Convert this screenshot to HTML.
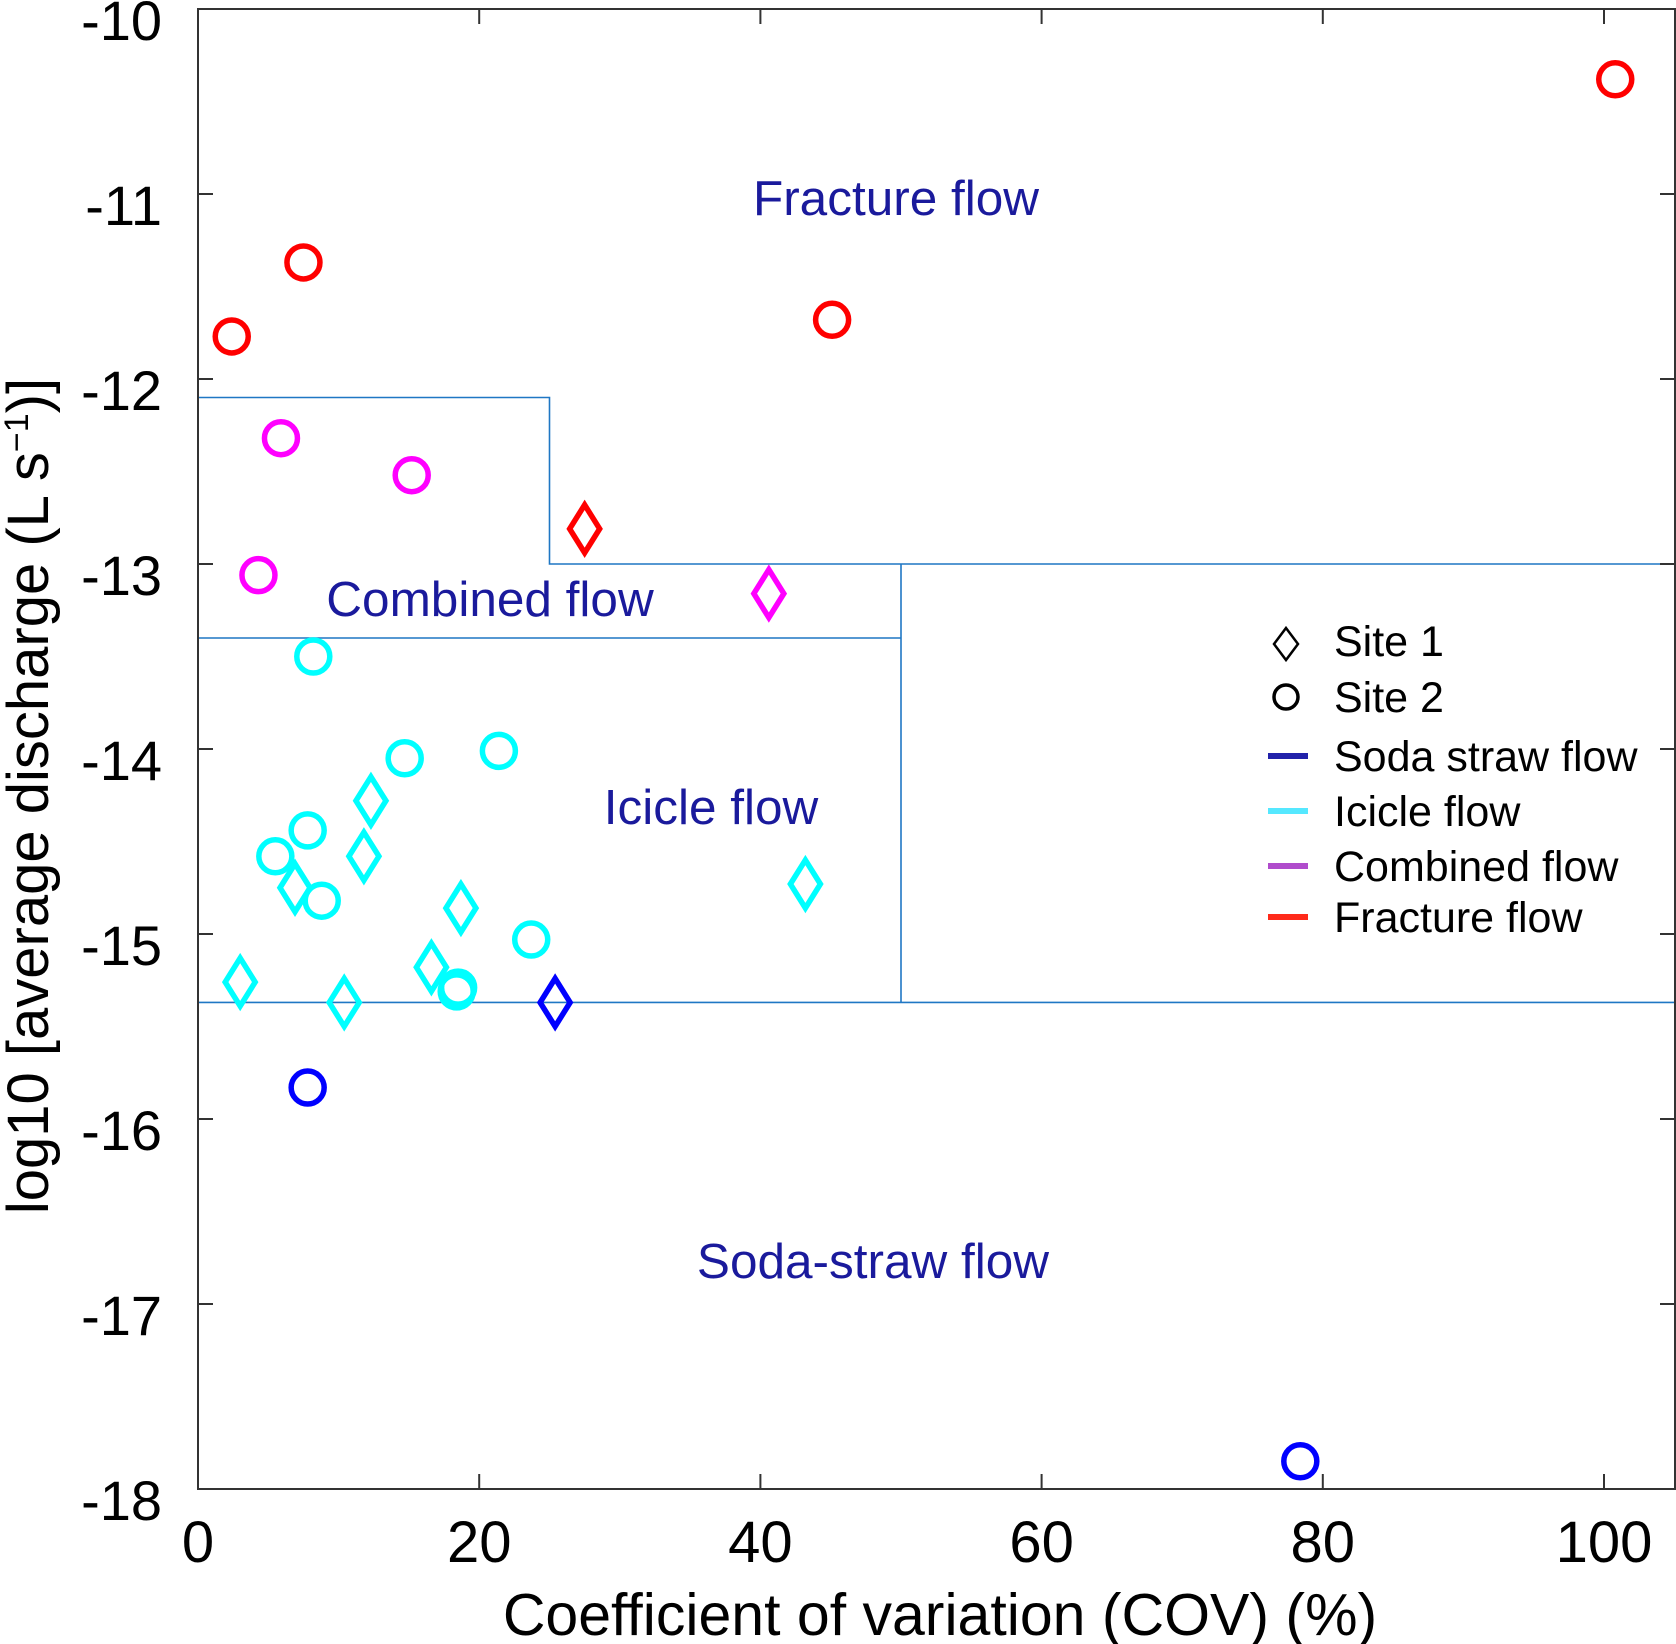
<!DOCTYPE html>
<html><head><meta charset="utf-8"><style>
html,body{margin:0;padding:0;background:#fff;}
svg{display:block;font-family:"Liberation Sans",Arial,sans-serif;}
</style></head><body>
<svg id="chart" width="1676" height="1644" viewBox="0 0 1676 1644">
<g id="regions"></g>
<g id="axes"></g>
<g id="marks"></g>
<g id="labels"></g>
<g id="legend"></g>
</svg>
<script>
const xTicks=[0,20,40,60,80,100];
const yTicks=[-10,-11,-12,-13,-14,-15,-16,-17,-18];
const site1X=[27.5,40.6,12.3,11.8,6.9,18.7,43.2,16.6,3.0,10.4,25.4];
const site1Y=[-12.81,-13.16,-14.28,-14.58,-14.75,-14.86,-14.73,-15.18,-15.26,-15.37,-15.37];
const site1Flow=["fracture","combined","icicle","icicle","icicle","icicle","icicle","icicle","icicle","icicle","soda"];
const site2X=[100.8,7.5,2.4,45.1,5.9,15.2,4.3,8.2,14.7,21.4,7.8,5.5,8.8,23.7,18.4,18.5,7.8,78.4];
const site2Y=[-10.38,-11.37,-11.77,-11.68,-12.32,-12.52,-13.06,-13.50,-14.05,-14.01,-14.44,-14.58,-14.82,-15.03,-15.31,-15.29,-15.83,-17.85];
const site2Flow=["fracture","fracture","fracture","fracture","combined","combined","combined","icicle","icicle","icicle","icicle","icicle","icicle","icicle","icicle","icicle","soda","soda"];
const colors={fracture:"#ff0000",combined:"#ff00ff",icicle:"#00ffff",soda:"#0000ff"};
const X0=198,X1=1675,Y0=9,Y1=1489;
const sx=v=>X0+v*(1604-X0)/100;
const sy=v=>Y0+(-10-v)*(Y1-Y0)/8;
const NS="http://www.w3.org/2000/svg";
function mk(parent,tag,attrs,text){const e=document.createElementNS(NS,tag);for(const k in attrs)e.setAttribute(k,attrs[k]);if(text!==undefined)e.textContent=text;parent.appendChild(e);return e;}
const R=document.getElementById('regions'),A=document.getElementById('axes'),M=document.getElementById('marks'),L=document.getElementById('labels'),G=document.getElementById('legend');
const bc="#1f77c4";
let p;
p=mk(R,'polyline',{points:`${sx(0)},${sy(-12.1)} ${sx(25)},${sy(-12.1)} ${sx(25)},${sy(-13)} ${X1},${sy(-13)}`,fill:'none',stroke:bc,'stroke-width':1.6});

p=mk(R,'polyline',{points:`${sx(0)},${sy(-13.4)} ${sx(50)},${sy(-13.4)}`,fill:'none',stroke:bc,'stroke-width':1.6});

p=mk(R,'polyline',{points:`${sx(50)},${sy(-13)} ${sx(50)},${sy(-15.37)}`,fill:'none',stroke:bc,'stroke-width':1.6});

p=mk(R,'polyline',{points:`${sx(0)},${sy(-15.37)} ${X1},${sy(-15.37)}`,fill:'none',stroke:bc,'stroke-width':1.6});

p=mk(A,'rect',{x:X0,y:Y0,width:X1-X0,height:Y1-Y0,fill:'none',stroke:'#333','stroke-width':2});

xTicks.forEach(t=>{const x=sx(t);
 mk(A,'line',{x1:x,y1:Y1,x2:x,y2:Y1-15,stroke:'#333','stroke-width':2});
 mk(A,'line',{x1:x,y1:Y0,x2:x,y2:Y0+15,stroke:'#333','stroke-width':2});
 const e=mk(A,'text',{x:x,y:1562,'font-size':58,'text-anchor':'middle',fill:'#000'},String(t));
 });
yTicks.forEach(t=>{const y=sy(t);
 mk(A,'line',{x1:X0,y1:y,x2:X0+15,y2:y,stroke:'#333','stroke-width':2});
 mk(A,'line',{x1:X1,y1:y,x2:X1-15,y2:y,stroke:'#333','stroke-width':2});
 const e=mk(A,'text',{x:162,y:y+31,'font-size':56,'text-anchor':'end',fill:'#000'},String(t));
 });
p=mk(A,'text',{x:940,y:1635,'font-size':59,'text-anchor':'middle',fill:'#000'},'Coefficient of variation  (COV) (%)');

p=mk(A,'text',{x:0,y:0,'font-size':58,'text-anchor':'middle',fill:'#000',transform:'translate(48,796) rotate(-90)'});

p.innerHTML='log10 [average discharge (L s<tspan dy="-20" font-size="34">−1</tspan><tspan dy="20">)]</tspan>';
function diamond(parent,x,y,c){return mk(parent,'polygon',{points:`${x},${y-24} ${x+15},${y} ${x},${y+24} ${x-15},${y}`,fill:'none',stroke:c,'stroke-width':5.5});}
site1X.forEach((v,i)=>{const e=diamond(M,sx(v),sy(site1Y[i]),colors[site1Flow[i]]);
 });
site2X.forEach((v,i)=>{const e=mk(M,'circle',{cx:sx(v),cy:sy(site2Y[i]),r:16.5,fill:'none',stroke:colors[site2Flow[i]],'stroke-width':5.5});
 });
const lab=[["Fracture flow",896,215,'fracture-flow-label'],["Combined flow",490,616,'combined-flow-label'],["Icicle flow",711,824,'icicle-flow-label'],["Soda-straw flow",873,1278,'soda-straw-flow-label']];
lab.forEach(l=>{const e=mk(L,'text',{x:l[1],y:l[2],'font-size':49.5,'text-anchor':'middle',fill:'#1a1a9c'},l[0]);
 });
const lx=1286,tx=1334;
p=diamond(G,lx,644,'#000');p.setAttribute('stroke-width',2.5);p.setAttribute('points',`${lx},${644-16} ${lx+12},644 ${lx},${644+16} ${lx-12},644`);

p=mk(G,'circle',{cx:lx,cy:697,r:12,fill:'none',stroke:'#000','stroke-width':3.5});

const legTxt=[["Site 1",641],["Site 2",697],["Soda straw flow",756],["Icicle flow",811],["Combined flow",866],["Fracture flow",917]];
legTxt.forEach(t=>{const e=mk(G,'text',{x:tx,y:t[1]+15,'font-size':43,fill:'#000'},t[0]);
 });
[["#2222aa",756],["#55e8ff",811],["#b04ccc",866],["#ff2a1a",917]].forEach(s=>{const e=mk(G,'line',{x1:lx-18,y1:s[1],x2:lx+22,y2:s[1],stroke:s[0],'stroke-width':6});
 });
</script>
</body></html>
